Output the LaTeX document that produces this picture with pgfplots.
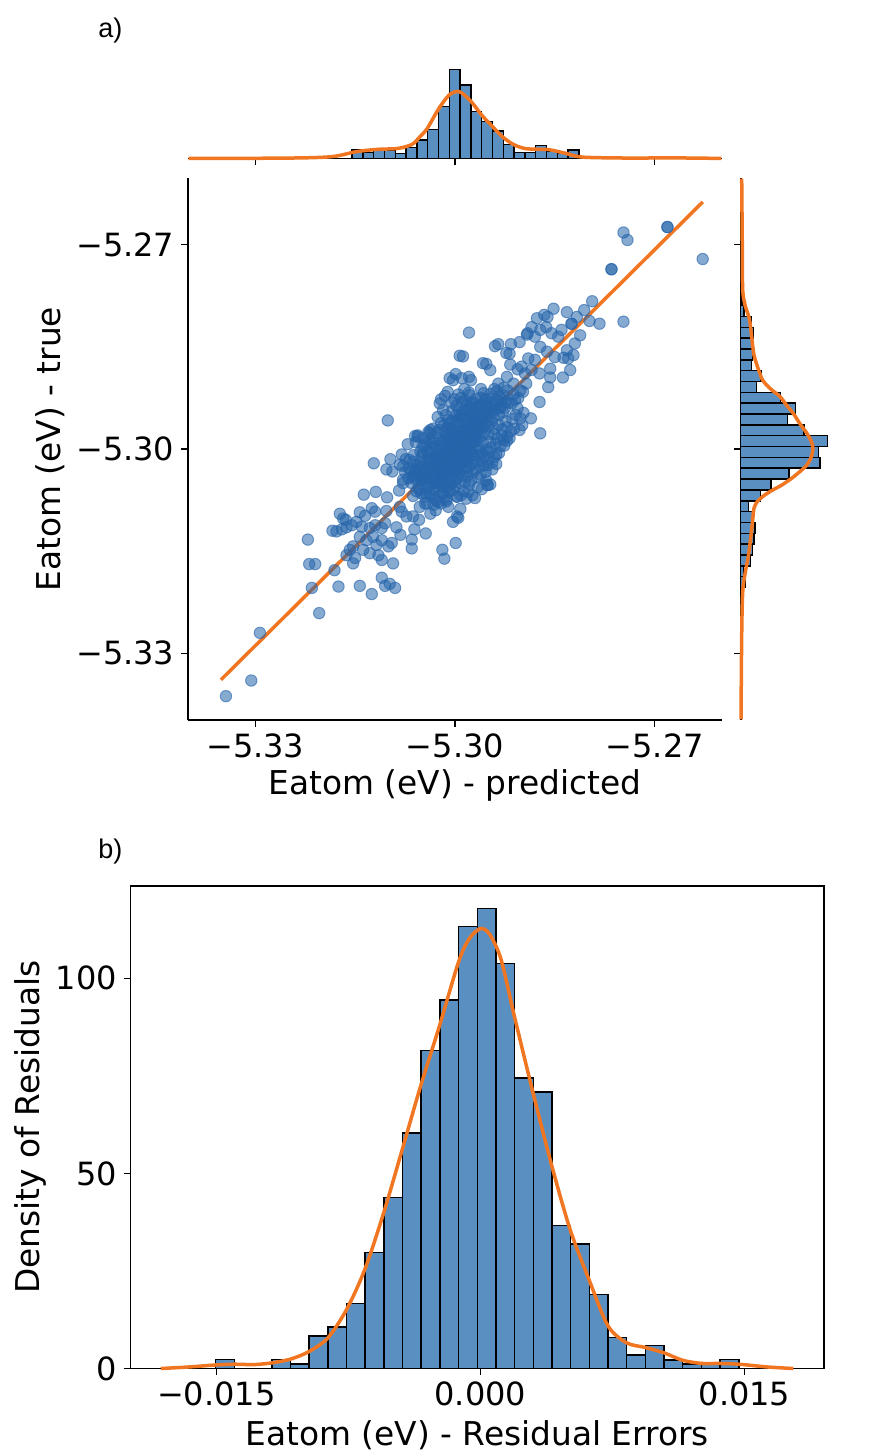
\documentclass[border=0pt]{standalone}
\usepackage{fontspec}
\setmainfont{DejaVu Sans}
\newfontfamily\panelfont{Liberation Sans}
\usepackage{pgfplots}
\pgfplotsset{compat=1.18}
\definecolor{scat}{RGB}{37,100,170}
\definecolor{barc}{RGB}{90,143,194}
\definecolor{kde}{RGB}{240,118,33}
\begin{document}
\begin{tikzpicture}
\path[use as bounding box] (0pt,0pt) rectangle (435pt,-726pt);
\pgfplotsset{
  every tick/.style={black, line width=0.6pt},
  tick align=outside,
  major tick length=3.3pt,
  scaled x ticks=false, scaled y ticks=false,
  tick label style={font=\fontsize{16}{19}\selectfont},
  label style={font=\fontsize{16.4}{20}\selectfont},
  axis line style={line width=0.8pt},
}
% ---------------- top marginal ----------------
\begin{axis}[scale only axis, width=267pt, height=54pt, at={(94pt,-79.2pt)}, anchor=south west,
  xmin=-5.3401, xmax=-5.2599, ymin=0, ymax=108,
  axis x line*=bottom, axis y line=none,
  xtick={-5.33,-5.30,-5.27}, xticklabels={,,}, ytick=\empty, clip=false]
\addplot[ybar interval, fill=barc, draw=black, line width=0.75pt] coordinates {
(-5.31546,8.3)(-5.31384,5.7)(-5.31221,10)(-5.31059,8.3)(-5.30897,5)(-5.30735,11)
(-5.30573,18.3)(-5.30410,29)(-5.30248,51.7)(-5.30086,88.7)(-5.29924,73.3)(-5.29762,46.7)
(-5.29599,36.7)(-5.29437,27.3)(-5.29275,14)(-5.29113,5.7)(-5.28951,5.7)(-5.28788,12.7)
(-5.28626,6.7)(-5.28464,5)(-5.28302,8.3)(-5.28140,0)};
\addplot[kde, line width=1.75pt, smooth] coordinates {
(-5.3400,0)(-5.3254,0.3)(-5.31857,1.7)(-5.31487,6.7)(-5.31172,9)(-5.30856,10)
(-5.30646,14)(-5.30526,21.7)(-5.30416,30)(-5.30251,49)(-5.30086,63.5)(-5.29935,66.7)
(-5.29760,57)(-5.29599,43.3)(-5.29449,32.7)(-5.29289,21.7)(-5.29124,14)(-5.28959,10)
(-5.28798,9.2)(-5.28594,8.8)(-5.28333,5)(-5.28067,1.2)(-5.27281,0.3)(-5.2686,0.6)(-5.2600,0)};
\end{axis}
% ---------------- right marginal ----------------
\begin{axis}[scale only axis, width=54pt, height=271pt, at={(370.35pt,-360pt)}, anchor=south west,
  xmin=0, xmax=108, ymin=-5.3398, ymax=-5.2602,
  axis y line*=left, axis x line=none,
  ytick={-5.33,-5.30,-5.27}, yticklabels={,,}, xtick=\empty, clip=false]
\addplot[xbar interval, fill=barc, draw=black, line width=0.75pt] coordinates {
(4.3,-5.32034)(2.7,-5.31874)(10,-5.31715)(12,-5.31556)(13.3,-5.31397)(14.3,-5.31238)
(12.7,-5.31078)(7.7,-5.30919)(20,-5.30760)(30.3,-5.30601)(48.3,-5.30442)(79.3,-5.30282)
(77.7,-5.30123)(86.7,-5.29964)(63.3,-5.29805)(46.7,-5.29646)(55,-5.29486)(40,-5.29327)
(16,-5.29168)(20.3,-5.29009)(11,-5.28850)(12,-5.28690)(11,-5.28531)(12.7,-5.28372)
(11,-5.28213)(3.3,-5.28054)(1.5,-5.27894)(0,-5.27735)(0,-5.27576)(2.7,-5.27417)(0,-5.27258)};
\addplot[kde, line width=1.75pt, smooth] coordinates {
(0.3,-5.3397)(1,-5.3273)(2,-5.3210)(4.3,-5.31834)(7.7,-5.3157)(10,-5.31306)(12,-5.31042)
(13.3,-5.3087)(16.7,-5.3077)(22.7,-5.3069)(31,-5.3061)(41,-5.3053)(51,-5.3043)
(59.3,-5.3033)(65.3,-5.3025)(69.3,-5.3016)(71.7,-5.3006)(72,-5.2996)(70,-5.2987)
(65.3,-5.2975)(59.3,-5.2963)(52.7,-5.2948)(46,-5.2936)(39.3,-5.2923)(29.3,-5.2911)
(22,-5.2899)(17.7,-5.2883)(13.3,-5.2862)(11,-5.28357)(8.7,-5.28093)(4.3,-5.27883)
(2,-5.27668)(1.7,-5.27198)(1,-5.2603)};
\end{axis}
% ---------------- joint scatter ----------------
\begin{axis}[scale only axis, width=267pt, height=271pt, at={(94pt,-360pt)}, anchor=south west,
  xmin=-5.3401, xmax=-5.2599, ymin=-5.3398, ymax=-5.2602,
  axis x line*=bottom, axis y line*=left,
  xtick={-5.33,-5.30,-5.27}, xticklabels={−5.33,−5.30,−5.27},
  ytick={-5.33,-5.30,-5.27}, yticklabels={−5.33,−5.30,−5.27},
  xlabel={Eatom (eV) - predicted}, ylabel={Eatom (eV) - true},
  xlabel style={at={(axis description cs:0.5,-0.1199)}, anchor=center},
  ylabel style={at={(axis description cs:-0.2584,0.5)}, anchor=center},
  clip=false]
\addplot[only marks, mark=*, mark size=2.85pt,
  mark options={fill=scat, draw=scat, fill opacity=0.55, draw opacity=0.6, line width=0.5pt}] coordinates {
(-5.3000,-5.3000)(-5.2996,-5.2991)(-5.3005,-5.3006)(-5.2991,-5.2997)(-5.3002,-5.2987)
(-5.2988,-5.2984)(-5.2994,-5.3008)(-5.3009,-5.2996)(-5.2985,-5.2993)(-5.2998,-5.3016)
(-5.3013,-5.3011)(-5.2982,-5.2978)(-5.3007,-5.2981)(-5.2977,-5.2986)(-5.2992,-5.2974)
(-5.3016,-5.3020)(-5.2989,-5.3002)(-5.3003,-5.3025)(-5.2973,-5.2971)(-5.3021,-5.3009)
(-5.2995,-5.2967)(-5.2981,-5.2964)(-5.3010,-5.3031)(-5.2969,-5.2979)(-5.3025,-5.3028)
(-5.2976,-5.2959)(-5.2999,-5.2982)(-5.2986,-5.3012)(-5.3018,-5.2991)(-5.2966,-5.2962)
(-5.3006,-5.2971)(-5.2971,-5.2990)(-5.3029,-5.3017)(-5.2993,-5.3022)(-5.2984,-5.2954)
(-5.2962,-5.2956)(-5.3014,-5.3039)(-5.2979,-5.2999)(-5.3001,-5.3036)(-5.2958,-5.2968)
(-5.3022,-5.3035)(-5.2990,-5.2951)(-5.2970,-5.2948)(-5.2955,-5.2950)(-5.3033,-5.3026)
(-5.2997,-5.3043)(-5.2974,-5.3004)(-5.3019,-5.3046)(-5.2951,-5.2959)(-5.3036,-5.3039)
(-5.2987,-5.2944)(-5.2963,-5.2941)(-5.2948,-5.2944)(-5.3008,-5.3049)(-5.2980,-5.3015)
(-5.3026,-5.3050)(-5.2944,-5.2936)(-5.3039,-5.3048)(-5.2991,-5.3031)(-5.2960,-5.2934)
(-5.2978,-5.2939)(-5.3043,-5.3033)(-5.2940,-5.2942)(-5.3012,-5.3056)(-5.2967,-5.3009)
(-5.3046,-5.3053)(-5.2936,-5.2929)(-5.3031,-5.3060)(-5.2983,-5.3028)(-5.2954,-5.2927)
(-5.3004,-5.2958)(-5.2972,-5.2932)(-5.3024,-5.2984)(-5.2942,-5.2954)(-5.3049,-5.3026)
(-5.2931,-5.2937)(-5.2998,-5.2950)(-5.3052,-5.3041)(-5.2928,-5.2921)(-5.3020,-5.3064)
(-5.2964,-5.2985)(-5.3011,-5.2969)(-5.2950,-5.2967)(-5.3035,-5.2998)(-5.2924,-5.2931)
(-5.3055,-5.3057)(-5.3000,-5.3054)(-5.2956,-5.2976)(-5.3028,-5.3001)(-5.2985,-5.2928)
(-5.3040,-5.3012)(-5.2937,-5.2915)(-5.3058,-5.3032)(-5.2975,-5.3022)(-5.2946,-5.2919)
(-5.3015,-5.3070)(-5.2961,-5.2912)(-5.3030,-5.3072)(-5.2921,-5.2914)(-5.3009,-5.3063)
(-5.2934,-5.2950)(-5.3044,-5.3065)(-5.2982,-5.3040)(-5.2952,-5.2939)(-5.3023,-5.3022)
(-5.2968,-5.2970)(-5.2994,-5.2989)(-5.3004,-5.3014)(-5.2986,-5.2975)(-5.3012,-5.3000)
(-5.2980,-5.2972)(-5.2997,-5.3003)(-5.3006,-5.2994)(-5.2990,-5.2981)(-5.2974,-5.2965)
(-5.3017,-5.3015)(-5.2992,-5.3015)(-5.2983,-5.2991)(-5.3002,-5.2978)(-5.3010,-5.3024)
(-5.2978,-5.2980)(-5.2999,-5.2995)(-5.2988,-5.2970)(-5.3020,-5.3016)(-5.2970,-5.2955)
(-5.3001,-5.3010)(-5.2995,-5.2980)(-5.2981,-5.2987)(-5.3014,-5.3004)(-5.2972,-5.2961)
(-5.2991,-5.3006)(-5.3007,-5.3019)(-5.2965,-5.2951)(-5.2996,-5.2961)(-5.3026,-5.3023)
(-5.2984,-5.3003)(-5.2976,-5.2948)(-5.3011,-5.2988)(-5.2959,-5.2953)(-5.3000,-5.3029)
(-5.3032,-5.3044)(-5.2987,-5.2996)(-5.3005,-5.3033)(-5.2964,-5.2937)(-5.3018,-5.3042)
(-5.2971,-5.2977)(-5.3003,-5.2999)(-5.2993,-5.2985)(-5.2989,-5.3010)
(-5.3048,-5.3040)(-5.3041,-5.3028)(-5.3036,-5.3052)(-5.3030,-5.3036)(-5.3024,-5.3047)
(-5.3019,-5.3035)(-5.3015,-5.3026)(-5.3009,-5.3044)(-5.3005,-5.3051)(-5.2999,-5.3032)
(-5.2995,-5.3023)(-5.2990,-5.3039)(-5.2985,-5.3048)(-5.2979,-5.3026)(-5.2973,-5.3035)
(-5.2968,-5.3019)(-5.2962,-5.3026)(-5.2956,-5.3010)(-5.2951,-5.3024)(-5.2946,-5.2998)
(-5.2941,-5.3012)(-5.2937,-5.2985)(-5.2932,-5.2996)(-5.2929,-5.2971)(-5.2940,-5.2970)
(-5.2945,-5.2960)(-5.2950,-5.2978)(-5.2955,-5.2964)(-5.2960,-5.2980)(-5.2965,-5.2969)
(-5.2970,-5.2982)(-5.2974,-5.2991)(-5.2979,-5.3005)(-5.2985,-5.3009)(-5.2991,-5.3020)
(-5.2996,-5.3028)(-5.3002,-5.3030)(-5.3008,-5.3022)(-5.3013,-5.3003)(-5.3019,-5.3007)
(-5.3024,-5.3002)(-5.3029,-5.3011)(-5.3034,-5.3015)(-5.3039,-5.3025)(-5.3045,-5.3030)
(-5.3051,-5.3020)(-5.3056,-5.3038)(-5.3049,-5.2997)(-5.3042,-5.3004)(-5.3035,-5.2984)
(-5.3029,-5.2996)(-5.3022,-5.2996)(-5.3016,-5.2985)(-5.3010,-5.2993)(-5.3004,-5.2984)
(-5.2998,-5.2988)(-5.2994,-5.2998)(-5.2987,-5.2989)(-5.2982,-5.2971)(-5.2977,-5.2969)
(-5.2972,-5.2978)(-5.2966,-5.2957)(-5.2961,-5.2965)(-5.2956,-5.2945)(-5.2950,-5.2952)
(-5.2944,-5.2947)(-5.2938,-5.2934)(-5.2932,-5.2940)(-5.2930,-5.2928)(-5.2954,-5.2934)
(-5.2961,-5.2925)(-5.2969,-5.2938)(-5.2975,-5.2933)(-5.2981,-5.2953)(-5.2988,-5.2950)
(-5.2994,-5.2943)(-5.3000,-5.2960)(-5.3005,-5.2970)(-5.3010,-5.2958)(-5.3017,-5.2966)
(-5.3023,-5.2972)(-5.3001,-5.2927)(-5.2991,-5.2925)(-5.2982,-5.2934)(-5.3007,-5.2990)
(-5.2997,-5.2997)(-5.2984,-5.2981)(-5.3001,-5.3005)(-5.2992,-5.2992)(-5.2986,-5.3002)
(-5.2976,-5.2988)(-5.3014,-5.3020)(-5.3006,-5.3010)(-5.2998,-5.3009)(-5.2964,-5.2998)
(-5.2960,-5.3007)(-5.2973,-5.3009)(-5.3028,-5.3029)(-5.3038,-5.3042)(-5.3020,-5.3052)
(-5.3065,-5.3050)(-5.3058,-5.3062)(-5.3050,-5.3045)(-5.3045,-5.3070)(-5.3040,-5.3055)
(-5.3035,-5.3068)(-5.3030,-5.3050)(-5.3026,-5.3078)(-5.3022,-5.3040)(-5.3018,-5.3056)
(-5.3013,-5.3074)(-5.3008,-5.3038)(-5.3003,-5.3060)(-5.2997,-5.3070)(-5.2992,-5.3050)
(-5.2987,-5.3062)(-5.2981,-5.3034)(-5.2976,-5.3046)(-5.2970,-5.3030)(-5.2965,-5.3042)
(-5.2960,-5.3018)(-5.2954,-5.3034)(-5.2949,-5.3005)(-5.2944,-5.3020)(-5.2939,-5.2992)
(-5.2934,-5.3006)(-5.2930,-5.2980)(-5.2926,-5.2995)(-5.2922,-5.2968)(-5.2918,-5.2984)
(-5.2914,-5.2956)(-5.2911,-5.2970)(-5.2906,-5.2940)(-5.2902,-5.2955)(-5.2920,-5.2932)
(-5.2928,-5.2946)(-5.2935,-5.2964)(-5.2941,-5.2978)(-5.2947,-5.2990)(-5.2953,-5.3001)
(-5.2958,-5.2991)(-5.2963,-5.3003)(-5.2967,-5.2975)(-5.2971,-5.3014)(-5.2977,-5.2993)
(-5.2982,-5.3008)(-5.2988,-5.3020)(-5.2994,-5.3036)(-5.3000,-5.3047)(-5.3006,-5.3027)
(-5.3012,-5.3018)(-5.3019,-5.3029)(-5.3025,-5.3012)(-5.3031,-5.3020)(-5.3037,-5.3006)
(-5.3044,-5.3019)(-5.3050,-5.3011)(-5.3057,-5.3023)(-5.3062,-5.3009)(-5.3069,-5.3028)
(-5.3074,-5.3015)(-5.3046,-5.2995)(-5.3039,-5.2988)(-5.3032,-5.2991)(-5.3027,-5.2976)
(-5.3020,-5.2990)(-5.3015,-5.2974)(-5.3009,-5.2962)(-5.3004,-5.2944)(-5.2998,-5.2936)
(-5.2993,-5.2954)(-5.2989,-5.2932)(-5.2983,-5.2943)(-5.2978,-5.2921)(-5.2973,-5.2944)
(-5.2968,-5.2926)(-5.2962,-5.2936)(-5.2957,-5.2918)(-5.2951,-5.2926)(-5.2946,-5.2931)
(-5.2941,-5.2912)(-5.2934,-5.2922)(-5.2927,-5.2910)(-5.3033,-5.2970)(-5.3021,-5.2962)
(-5.3014,-5.2950)(-5.3005,-5.2932)(-5.2995,-5.2920)(-5.2986,-5.2912)(-5.3040,-5.2975)
(-5.3060,-5.3044)(-5.3051,-5.3065)(-5.3042,-5.3080)(-5.3029,-5.3090)(-5.3010,-5.3085)
(-5.2991,-5.3068)(-5.2980,-5.3063)(-5.2970,-5.3072)(-5.2960,-5.3059)(-5.3078,-5.3045)
(-5.3080,-5.3008)(-5.3071,-5.2993)(-5.2905,-5.2925)(-5.2898,-5.2916)(-5.2912,-5.2920)
(-5.2999,-5.2973)(-5.2985,-5.2964)(-5.3008,-5.3002)(-5.2996,-5.3012)(-5.2990,-5.3000)
(-5.2980,-5.2984)(-5.3016,-5.3008)(-5.2975,-5.2976)(-5.2967,-5.2988)(-5.3023,-5.3030)
(-5.3002,-5.3020)(-5.2984,-5.3019)(-5.2971,-5.2957)(-5.3011,-5.2980)
(-5.2950,-5.3015)(-5.2944,-5.3030)(-5.2953,-5.3046)(-5.2938,-5.3008)(-5.2957,-5.3024)
(-5.2947,-5.3052)(-5.2961,-5.3038)(-5.2966,-5.3056)(-5.2974,-5.3068)(-5.2983,-5.3073)
(-5.2979,-5.3052)(-5.2951,-5.3053)(-5.2951,-5.3053)(-5.3059,-5.2990)(-5.3052,-5.3004)
(-5.3063,-5.3019)(-5.3047,-5.2984)(-5.3056,-5.2980)(-5.3038,-5.2977)(-5.3060,-5.3030)
(-5.3042,-5.2992)(-5.2922,-5.2988)(-5.2924,-5.2959)(-5.2916,-5.2974)(-5.2909,-5.2950)
(-5.2938,-5.3022)(-5.3083,-5.3023)(-5.3068,-5.3016)(-5.3053,-5.3026)(-5.3043,-5.3036)
(-5.3033,-5.3045)(-5.3025,-5.3055)(-5.3018,-5.3065)(-5.3008,-5.3060)(-5.3038,-5.3016)
(-5.3048,-5.3006)(-5.3070,-5.3043)(-5.3062,-5.3039)(-5.3075,-5.3034)(-5.3037,-5.3095)
(-5.3021,-5.3080)(-5.3032,-5.3082)(-5.3053,-5.3085)(-5.3063,-5.3069)(-5.2995,-5.3101)
(-5.2992,-5.3088)(-5.3056,-5.2982)(-5.3023,-5.2933)(-5.3015,-5.2922)(-5.3011,-5.2916)
(-5.3018,-5.2943)(-5.3026,-5.2953)(-5.2990,-5.2896)(-5.3021,-5.2927)(-5.2979,-5.2917)
(-5.3344,-5.3363)(-5.3306,-5.3340)(-5.3293,-5.3270)(-5.3204,-5.3241)(-5.3215,-5.3204)
(-5.3175,-5.3202)(-5.3143,-5.3201)(-5.3125,-5.3213)(-5.3110,-5.3189)(-5.3105,-5.3201)
(-5.3098,-5.3198)(-5.3090,-5.3204)(-5.3181,-5.3178)(-5.3219,-5.3169)(-5.3210,-5.3169)
(-5.3221,-5.3133)(-5.3184,-5.3120)
(-5.3170,-5.3118)(-5.3168,-5.3102)(-5.3173,-5.3095)(-5.3164,-5.3104)(-5.3178,-5.3121)
(-5.3163,-5.3115)(-5.3155,-5.3112)(-5.3137,-5.3067)(-5.3119,-5.3063)(-5.3102,-5.3071)
(-5.3143,-5.3093)(-5.3135,-5.3098)(-5.3125,-5.3087)(-5.3120,-5.3092)(-5.3103,-5.3091)
(-5.3148,-5.3107)(-5.3140,-5.3114)(-5.3128,-5.3116)(-5.3120,-5.3112)(-5.3110,-5.3116)
(-5.3105,-5.3109)(-5.3088,-5.3115)(-5.3082,-5.3126)(-5.3065,-5.3133)(-5.3065,-5.3146)
(-5.3044,-5.3124)(-5.3061,-5.3118)(-5.3054,-5.3104)(-5.3063,-5.3099)(-5.3073,-5.3099)
(-5.3080,-5.3092)(-5.3083,-5.3085)(-5.3143,-5.3129)(-5.3133,-5.3134)(-5.3123,-5.3129)
(-5.3118,-5.3141)(-5.3110,-5.3134)(-5.3100,-5.3143)(-5.3095,-5.3138)(-5.3138,-5.3148)
(-5.3128,-5.3153)(-5.3115,-5.3156)(-5.3110,-5.3163)(-5.3153,-5.3168)(-5.3150,-5.3160)
(-5.3163,-5.3156)(-5.3158,-5.3148)(-5.3153,-5.3143)(-5.3093,-5.3168)(-5.3019,-5.3148)
(-5.3016,-5.3161)(-5.2999,-5.3138)(-5.3003,-5.3107)(-5.2997,-5.3099)(-5.3122,-5.3021)
(-5.3097,-5.3015)(-5.3103,-5.3030)(-5.3094,-5.3033)(-5.3078,-5.3025)(-5.3084,-5.3061)
(-5.3067,-5.3032)(-5.3063,-5.3041)(-5.3078,-5.3050)(-5.3048,-5.3046)(-5.3045,-5.3080)
(-5.3028,-5.3075)(-5.3013,-5.3077)(-5.2997,-5.3070)(-5.3038,-5.3065)(-5.3053,-5.3060)
(-5.3101,-5.2958)(-5.3060,-5.2981)(-5.3037,-5.2972)
(-5.2628,-5.2721)(-5.2681,-5.2674)(-5.2681,-5.2674)(-5.2765,-5.2736)(-5.2765,-5.2736)
(-5.2747,-5.2682)(-5.2741,-5.2693)(-5.2747,-5.2813)(-5.2794,-5.2783)(-5.2783,-5.2816)
(-5.2806,-5.2796)(-5.2798,-5.2812)(-5.2832,-5.2799)(-5.2817,-5.2806)(-5.2825,-5.2816)
(-5.2825,-5.2816)(-5.2852,-5.2794)(-5.2861,-5.2806)(-5.2866,-5.2803)(-5.2877,-5.2808)
(-5.2885,-5.2821)(-5.2872,-5.2825)(-5.2892,-5.2832)(-5.2880,-5.2835)(-5.2863,-5.2821)
(-5.2855,-5.2830)(-5.2845,-5.2835)(-5.2840,-5.2825)(-5.2812,-5.2833)(-5.2820,-5.2845)
(-5.2979,-5.2829)(-5.2940,-5.2849)(-5.2935,-5.2846)(-5.2916,-5.2846)(-5.2903,-5.2843)
(-5.2891,-5.2830)(-5.2993,-5.2863)(-5.2958,-5.2874)(-5.2923,-5.2859)(-5.2947,-5.2884)
(-5.2917,-5.2876)(-5.2906,-5.2883)(-5.2890,-5.2867)(-5.2880,-5.2869)(-5.2885,-5.2884)
(-5.2895,-5.2889)(-5.2873,-5.2889)(-5.2857,-5.2882)(-5.2850,-5.2865)(-5.2837,-5.2866)
(-5.2830,-5.2867)(-5.2822,-5.2862)(-5.2832,-5.2855)(-5.2827,-5.2884)(-5.2838,-5.2895)
(-5.2857,-5.2895)(-5.2860,-5.2909)(-5.3008,-5.2896)(-5.2999,-5.2890)(-5.2979,-5.2894)
(-5.2976,-5.2899)(-5.2873,-5.2931)(-5.2897,-5.2947)(-5.2886,-5.2955)(-5.2899,-5.2965)
(-5.2903,-5.2972)(-5.2872,-5.2977)(-5.2922,-5.2982)(-5.2927,-5.2987)(-5.2910,-5.2928)
(-5.2915,-5.2933)(-5.2925,-5.2940)(-5.2902,-5.2914)(-5.2912,-5.2904)(-5.2893,-5.2904)
(-5.2922,-5.2894)(-5.2935,-5.2904)(-5.2900,-5.2879)(-5.2862,-5.2857)(-5.2872,-5.2850)
(-5.2953,-5.2875)(-5.2918,-5.2860)(-5.2988,-5.2864)(-5.3003,-5.2899)
};
\addplot[kde, line width=1.75pt] coordinates {(-5.33515,-5.33389)(-5.26279,-5.26372)};
\end{axis}
% ---------------- residual histogram ----------------
\begin{axis}[scale only axis, width=346.75pt, height=241.4pt, at={(65.3pt,-684.25pt)}, anchor=south west,
  xmin=-0.019864, xmax=0.019523, ymin=0, ymax=123.7,
  xtick pos=left, ytick pos=left,
  xtick={-0.015,0,0.015}, xticklabels={−0.015,0.000,0.015},
  ytick={0,50,100}, yticklabels={0,50,100},
  xlabel={Eatom (eV) - Residual Errors}, ylabel={Density of Residuals},
  xlabel style={at={(axis description cs:0.5,-0.1377)}, anchor=center},
  ylabel style={at={(axis description cs:-0.1451,0.5)}, anchor=center},
  clip=false]
\addplot[ybar interval, fill=barc, draw=black, line width=0.75pt] coordinates {
(-0.01503,2.3)(-0.013969,0)(-0.012908,0)(-0.011847,2.3)(-0.010786,1.15)(-0.009725,8.3)
(-0.008664,10.6)(-0.007603,16.6)(-0.006542,29.7)(-0.005481,43.8)(-0.00442,60.3)(-0.003359,81.5)
(-0.002298,94.4)(-0.001237,113.2)(-0.000176,117.9)(0.000885,103.8)(0.001946,74.4)(0.003007,70.9)
(0.004068,36.6)(0.005129,31.9)(0.00619,19.0)(0.007251,7.9)(0.008312,3.5)(0.009373,5.9)
(0.010434,2.2)(0.011495,1.15)(0.012556,1.15)(0.013617,2.3)(0.014678,0)};
\addplot[kde, line width=1.75pt, smooth] coordinates {
(-0.01815,0)(-0.01654,0.4)(-0.01505,0.9)(-0.01391,1.1)(-0.01287,1.0)(-0.01183,1.45)
(-0.01079,2.4)(-0.00975,4.3)(-0.00867,7.8)(-0.0076,15.1)(-0.00656,25.4)(-0.00549,39.9)
(-0.00443,56.2)(-0.00339,72.4)(-0.00232,87.8)(-0.00125,104.0)(-0.00065,110.0)(0.0,112.7)
(0.00052,111.3)(0.00117,104.9)(0.00193,90.3)(0.00299,70.7)(0.00406,51.9)(0.0051,35.6)
(0.00617,22.8)(0.00724,11.0)(0.0083,6.6)(0.00936,5.4)(0.01044,4.0)(0.0115,2.1)
(0.01258,1.3)(0.01361,1.3)(0.0147,1.1)(0.01628,0.4)(0.01778,0)};
\end{axis}
\node[anchor=base west, font=\panelfont\fontsize{13.5}{16}\selectfont, inner sep=0pt] at (49pt,-18.5pt) {a)};
\node[anchor=base west, font=\panelfont\fontsize{13.5}{16}\selectfont, inner sep=0pt] at (49pt,-429pt) {b)};
\end{tikzpicture}
\end{document}
